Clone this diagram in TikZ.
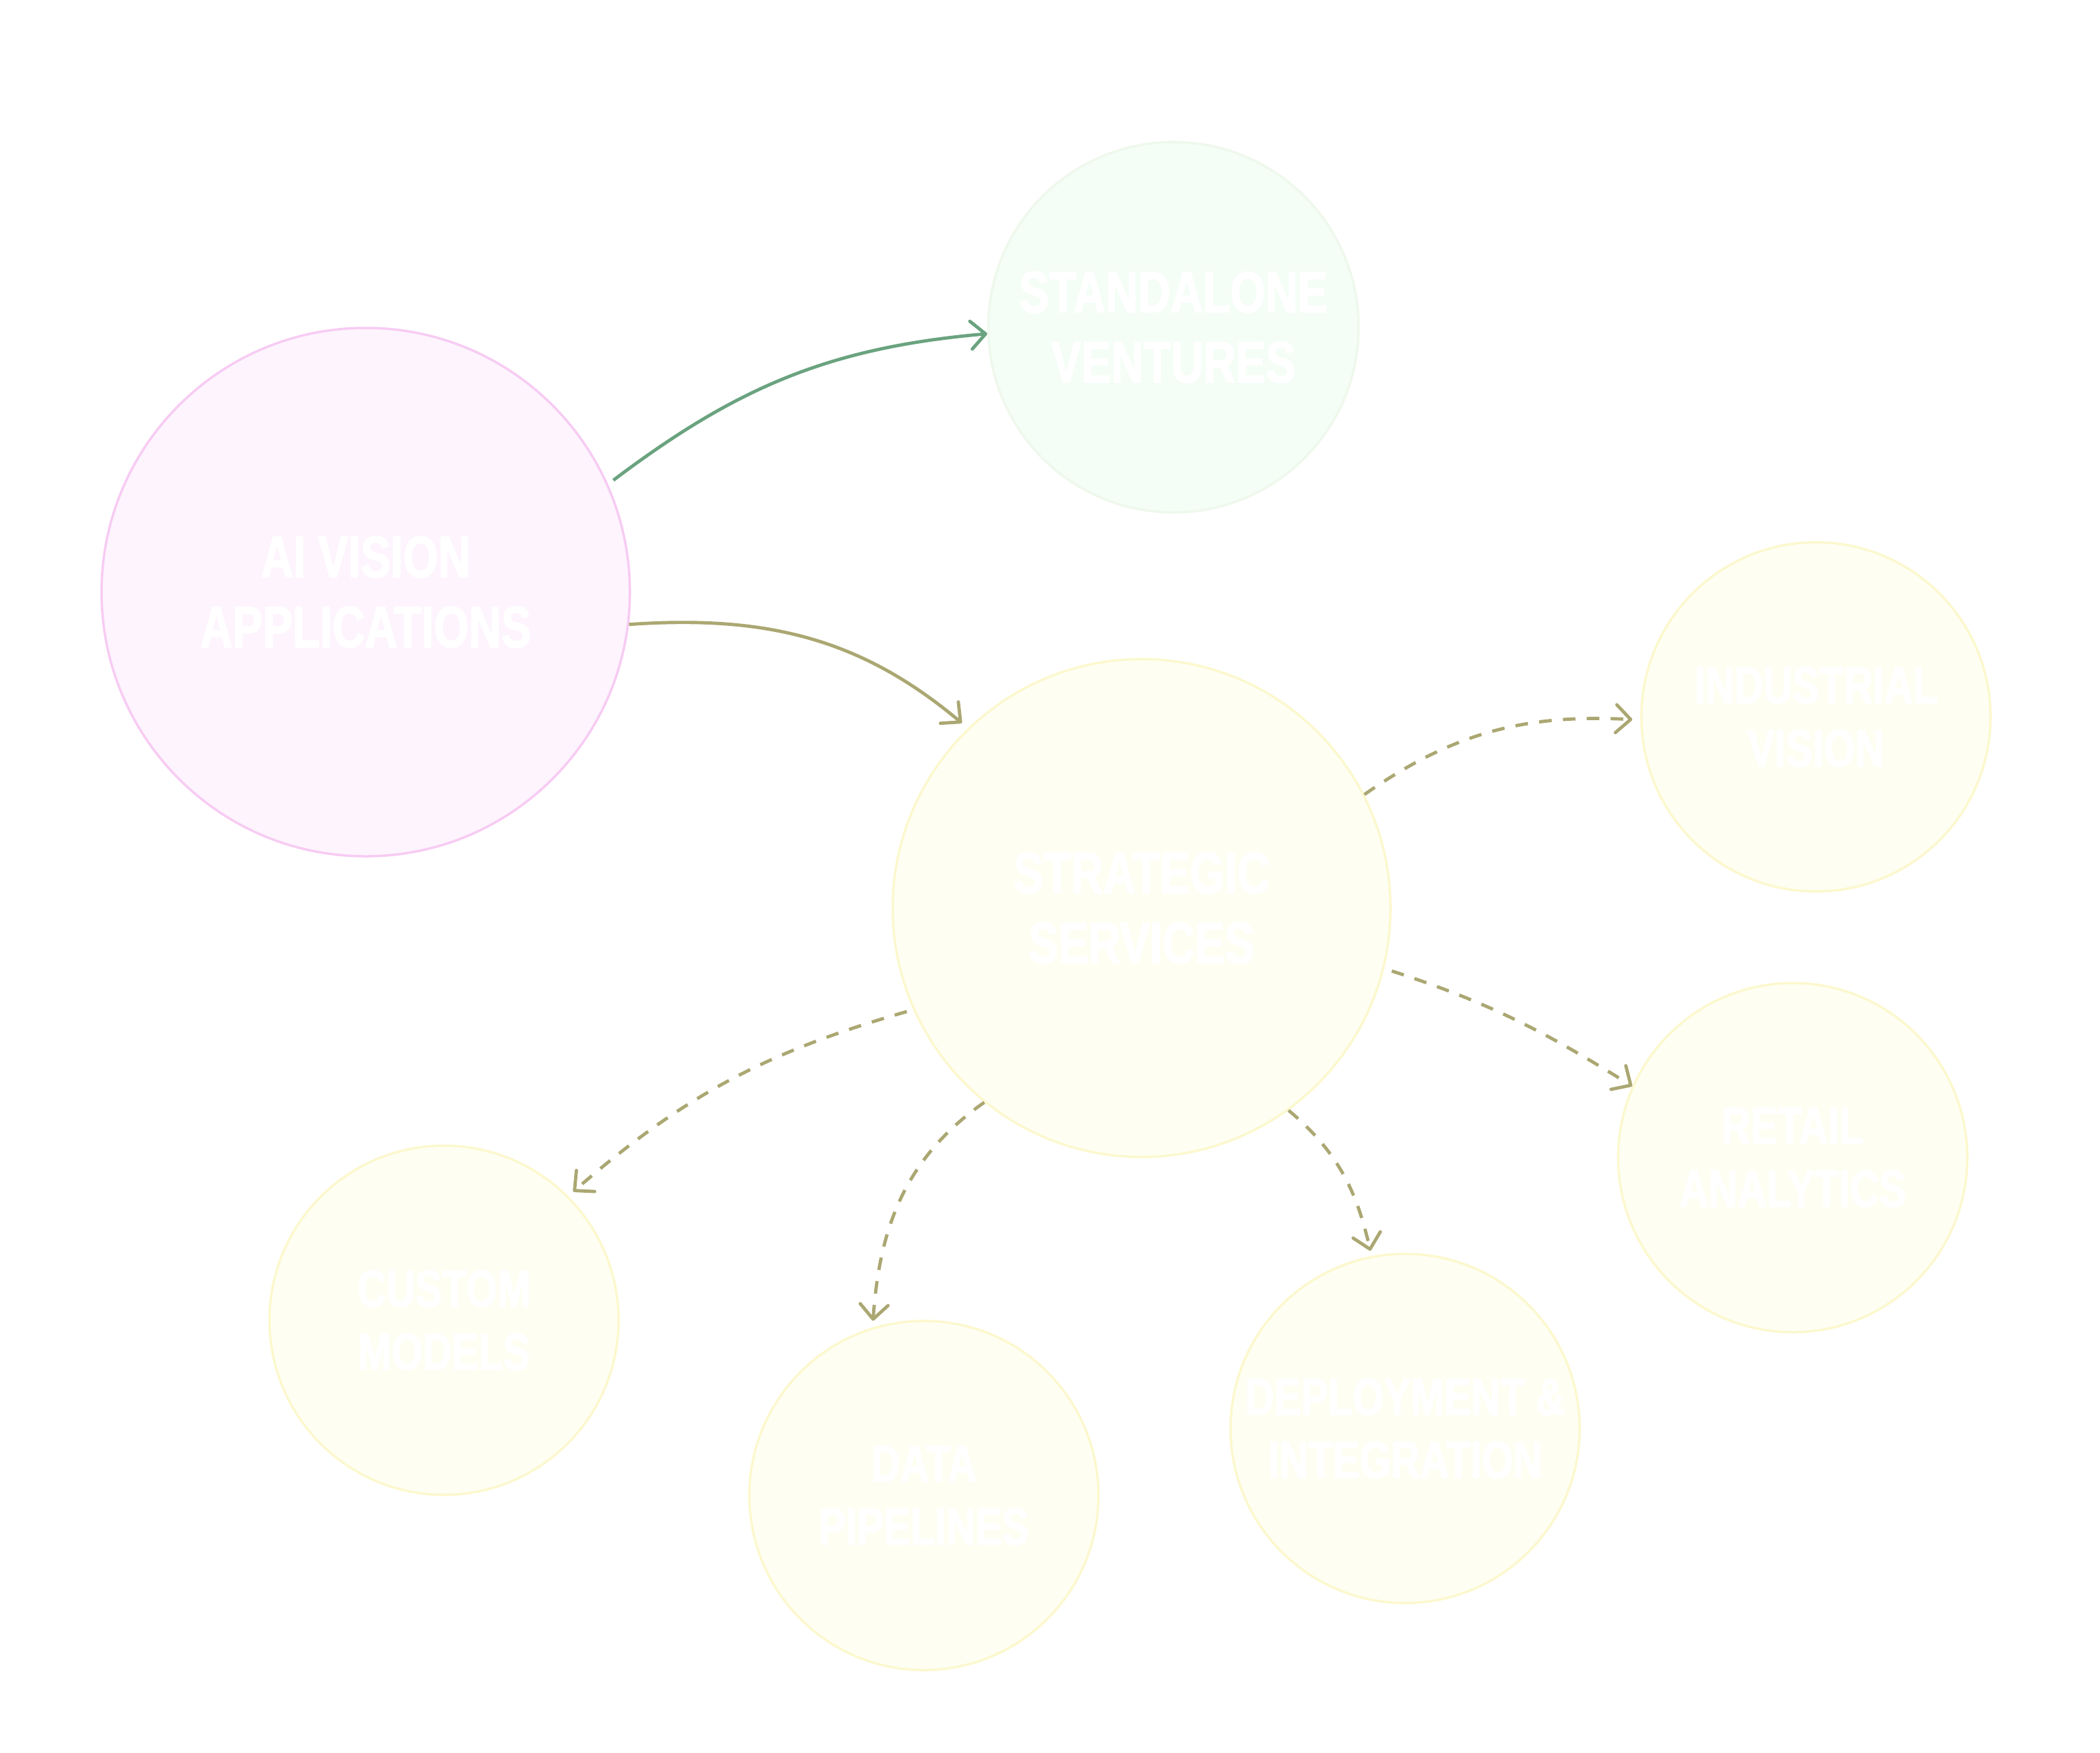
\documentclass[tikz,border=0pt]{standalone}
\usepackage{fontspec}
\newfontfamily\nodefont{Liberation Sans}[UprightFont=* Bold, FakeStretch=0.77, FakeBold=2]
\usetikzlibrary{arrows.meta}
\definecolor{pinkfill}{HTML}{FDF4FD}
\definecolor{pinkline}{HTML}{F7CBF3}
\definecolor{mintfill}{HTML}{F4FDF6}
\definecolor{mintline}{HTML}{EFF8EC}
\definecolor{yelfill}{HTML}{FEFEF2}
\definecolor{yelline}{HTML}{FCF8CE}
\definecolor{greenarrow}{HTML}{6AA37F}
\definecolor{olivearrow}{HTML}{ABA772}
\tikzset{
  bubble/.style={circle, inner sep=0pt, line width=1pt, text=white, align=center,
    font=\nodefont\fontsize{25}{30}\selectfont},
  smallbubble/.style={bubble, minimum size=5.26cm,
    font=\nodefont\fontsize{22.4}{27}\selectfont, fill=yelfill, draw=yelline},
  conn/.style={line width=1.4pt, -{Straight Barb[length=0.22cm, width=0.42cm, round]}},
  solidgreen/.style={conn, draw=greenarrow},
  solidolive/.style={conn, draw=olivearrow},
  dashedolive/.style={conn, draw=olivearrow, dash pattern=on 0.19cm off 0.17cm}
}
\begin{document}
\begin{tikzpicture}
\fill[white] (0,0) rectangle (31.64,-26.40);
\useasboundingbox (0,0) rectangle (31.64,-26.40);

\node[bubble, minimum size=7.96cm, fill=pinkfill, draw=pinkline] (ai) at (5.51,-8.92) {AI VISION\\APPLICATIONS};
\node[bubble, minimum size=5.58cm, fill=mintfill, draw=mintline] (sv) at (17.68,-4.93) {STANDALONE\\VENTURES};
\node[bubble, minimum size=7.50cm, fill=yelfill, draw=yelline] (ss) at (17.20,-13.68) {STRATEGIC\\SERVICES};
\node[smallbubble] (iv) at (27.36,-10.80) {INDUSTRIAL\\VISION};
\node[smallbubble] (ra) at (27.01,-17.44) {RETAIL\\ANALYTICS};
\node[smallbubble] (cm) at (6.69,-19.89) {CUSTOM\\MODELS};
\node[smallbubble] (dp) at (13.92,-22.53) {DATA\\PIPELINES};
\node[smallbubble] (di) at (21.17,-21.52) {DEPLOYMENT \&\\INTEGRATION};

\draw[solidgreen, shorten <=0.1cm] (ai.24.6) to[out=37, in=185] (sv.182.4);
\draw[solidolive, shorten >=0.12cm] (ai.-7.9) to[out=4, in=140] (ss.134.7);
\draw[dashedolive, shorten >=0.12cm] (ss.27.6) to[out=35, in=177] (iv.181.4);
\draw[dashedolive, shorten <=0.12cm] (ss.-14) to[out=-18, in=148] (ra.156.5);
\draw[dashedolive, shorten <=0.1cm, shorten >=0.1cm] (ss.204.6) to[out=196, in=41] (cm.45.6);
\draw[dashedolive, shorten >=0.1cm] (ss.231.5) to[out=215, in=86] (dp.107.3);
\draw[dashedolive, shorten >=0.08cm] (ss.-54.8) to[out=-40, in=103] (di.101.2);
\end{tikzpicture}
\end{document}
